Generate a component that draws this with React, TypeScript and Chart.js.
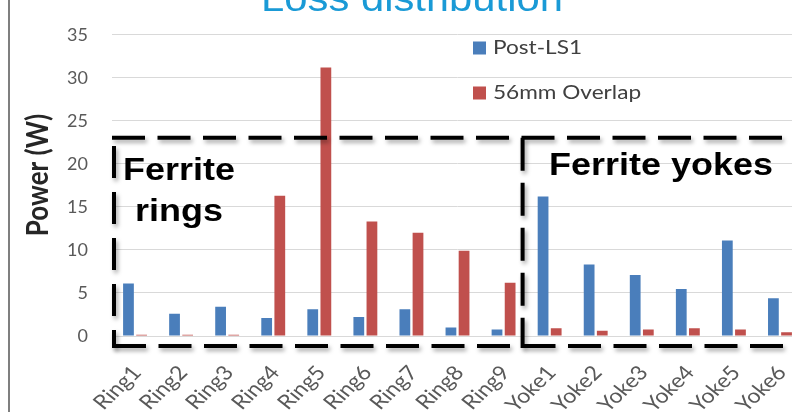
import React, { useEffect, useRef } from "react";
import { Chart, registerables } from "chart.js";

Chart.register(...registerables);

const categories = [
  "Ring1", "Ring2", "Ring3", "Ring4", "Ring5", "Ring6", "Ring7", "Ring8", "Ring9",
  "Yoke1", "Yoke2", "Yoke3", "Yoke4", "Yoke5", "Yoke6",
];
const postLS1 = [6.1, 2.6, 3.4, 2.1, 3.1, 2.2, 3.1, 1.0, 0.75, 16.2, 8.3, 7.1, 5.45, 11.1, 4.4];
const overlap56 = [0.15, 0.15, 0.15, 16.3, 31.2, 13.3, 12.0, 9.9, 6.2, 0.9, 0.6, 0.75, 0.9, 0.75, 0.45];
const seriesNames = ["Post-LS1", "56mm Overlap"];
const seriesColors = ["#4a7ebb", "#c0504d"];
const yTicks = { min: 0, max: 35, step: 5 };
const titleText = "Loss distribution";
const yTitle = "Power (W)";
const groupLabels = [["Ferrite", "rings"], ["Ferrite yokes"]];

const STRETCH = 1.16;

function stretchedText(ctx: CanvasRenderingContext2D, text: string, cx: number, y: number, align: CanvasTextAlign = "center") {
  ctx.save();
  ctx.translate(cx, y);
  ctx.scale(STRETCH, 1);
  ctx.textAlign = align;
  ctx.fillText(text, 0, 0);
  ctx.restore();
}

const overlayPlugin = {
  id: "overlay",
  afterDraw(chart: any) {
    const ctx: CanvasRenderingContext2D = chart.ctx;
    const area = chart.chartArea;
    const xs = chart.scales.x;
    const ys = chart.scales.y;
    ctx.save();

    // left frame line
    ctx.strokeStyle = "#7f7f7f";
    ctx.lineWidth = 2;
    ctx.beginPath();
    ctx.moveTo(9, 0);
    ctx.lineTo(9, chart.height);
    ctx.stroke();

    // title (cropped at the top)
    ctx.fillStyle = "#1a9ad6";
    ctx.font = "36px 'Liberation Sans', Arial, sans-serif";
    ctx.textBaseline = "alphabetic";
    stretchedText(ctx, titleText, 412, 11);

    // y axis title
    ctx.save();
    ctx.translate(38, 175);
    ctx.rotate(-Math.PI / 2);
    ctx.scale(1, STRETCH);
    ctx.fillStyle = "#262626";
    ctx.font = "bold 26px Lato, sans-serif";
    ctx.textAlign = "center";
    ctx.textBaseline = "middle";
    ctx.fillText(yTitle, 0, 0);
    ctx.restore();

    // x category labels (rotated, from the category scale)
    ctx.fillStyle = "#595959";
    ctx.font = "20px Lato, sans-serif";
    ctx.textAlign = "right";
    ctx.textBaseline = "middle";
    chart.data.labels.forEach((lab: string, i: number) => {
      const px = xs.getPixelForValue(i);
      ctx.save();
      ctx.translate(px + 2, area.bottom + 33);
      ctx.scale(STRETCH, 1);
      ctx.rotate(-48 * Math.PI / 180);
      ctx.fillText(lab, 0, 0);
      ctx.restore();
    });

    // legend
    ctx.font = "19.5px Lato, sans-serif";
    ctx.textBaseline = "middle";
    chart.data.datasets.forEach((ds: any, i: number) => {
      const ly = 48 + i * 45;
      ctx.fillStyle = ds.backgroundColor;
      ctx.fillRect(473, ly - 6.5, 13, 13);
      ctx.fillStyle = "#404040";
      stretchedText(ctx, ds.label, 493, ly, "left");
    });

    // dashed boxes
    const top = ys.getPixelForValue(23.05);
    const bottom = area.bottom + 10;
    const left = area.left + 2;
    const divider = (xs.getPixelForValue(8) + xs.getPixelForValue(9)) / 2 - 4;
    const right = chart.width + 5;
    ctx.strokeStyle = "#000";
    ctx.lineWidth = 4;
    ctx.shadowColor = "rgba(0,0,0,0.35)";
    ctx.shadowBlur = 4;
    ctx.shadowOffsetX = 2;
    ctx.shadowOffsetY = 3;
    ctx.lineCap = "butt";

    ctx.setLineDash([33, 12.5]);
    ctx.lineDashOffset = 0;
    ctx.beginPath();
    ctx.moveTo(area.left, top);
    ctx.lineTo(right, top);
    ctx.stroke();

    ctx.beginPath();
    ctx.moveTo(left - 1, bottom);
    ctx.lineTo(right, bottom);
    ctx.stroke();

    ctx.setLineDash([32, 14]);
    ctx.lineDashOffset = 14;
    ctx.beginPath();
    ctx.moveTo(left, bottom + 2);
    ctx.lineTo(left, top);
    ctx.stroke();

    ctx.setLineDash([33, 12]);
    ctx.lineDashOffset = 0;
    ctx.beginPath();
    ctx.moveTo(divider, top);
    ctx.lineTo(divider, bottom + 2);
    ctx.stroke();

    ctx.shadowColor = "transparent";
    ctx.setLineDash([]);

    // group labels
    ctx.fillStyle = "#000";
    ctx.font = "bold 31px 'Liberation Sans', Arial, sans-serif";
    ctx.textBaseline = "alphabetic";
    stretchedText(ctx, groupLabels[0][0], 179, 180);
    stretchedText(ctx, groupLabels[0][1], 179, 221);
    stretchedText(ctx, groupLabels[1][0], 661, 175);

    ctx.restore();
  },
};

export default function App() {
  const ref = useRef<HTMLCanvasElement>(null);

  useEffect(() => {
    if (!ref.current) return;
    const chart = new Chart(ref.current, {
      type: "bar",
      data: {
        labels: categories,
        datasets: [
          { label: seriesNames[0], data: postLS1, backgroundColor: seriesColors[0] },
          { label: seriesNames[1], data: overlap56, backgroundColor: seriesColors[1] },
        ],
      },
      options: {
        animation: false,
        responsive: true,
        maintainAspectRatio: false,
        layout: { padding: { left: 0, top: 17, right: 9, bottom: 0 } },
        datasets: { bar: { categoryPercentage: 0.57, barPercentage: 0.82 } },
        plugins: { legend: { display: false }, title: { display: false }, tooltip: { enabled: false } },
        scales: {
          x: {
            grid: { display: false, drawTicks: false },
            border: { display: false },
            ticks: { display: false },
            afterFit: (s: any) => { s.height = 76; },
          },
          y: {
            min: yTicks.min,
            max: yTicks.max,
            grid: { color: "#d9d9d9", lineWidth: 1, drawTicks: false },
            border: { display: false },
            ticks: {
              stepSize: yTicks.step,
              padding: 24,
              color: "#595959",
              font: { family: "Lato, sans-serif", size: 18 },
            },
            afterFit: (s: any) => { s.width = 112; },
          },
        },
      },
      plugins: [overlayPlugin],
    });
    return () => chart.destroy();
  }, []);

  return (
    <div style={{ position: "fixed", left: 0, top: 0, width: 812, height: 412, background: "#fff" }}>
      <canvas ref={ref} />
    </div>
  );
}
